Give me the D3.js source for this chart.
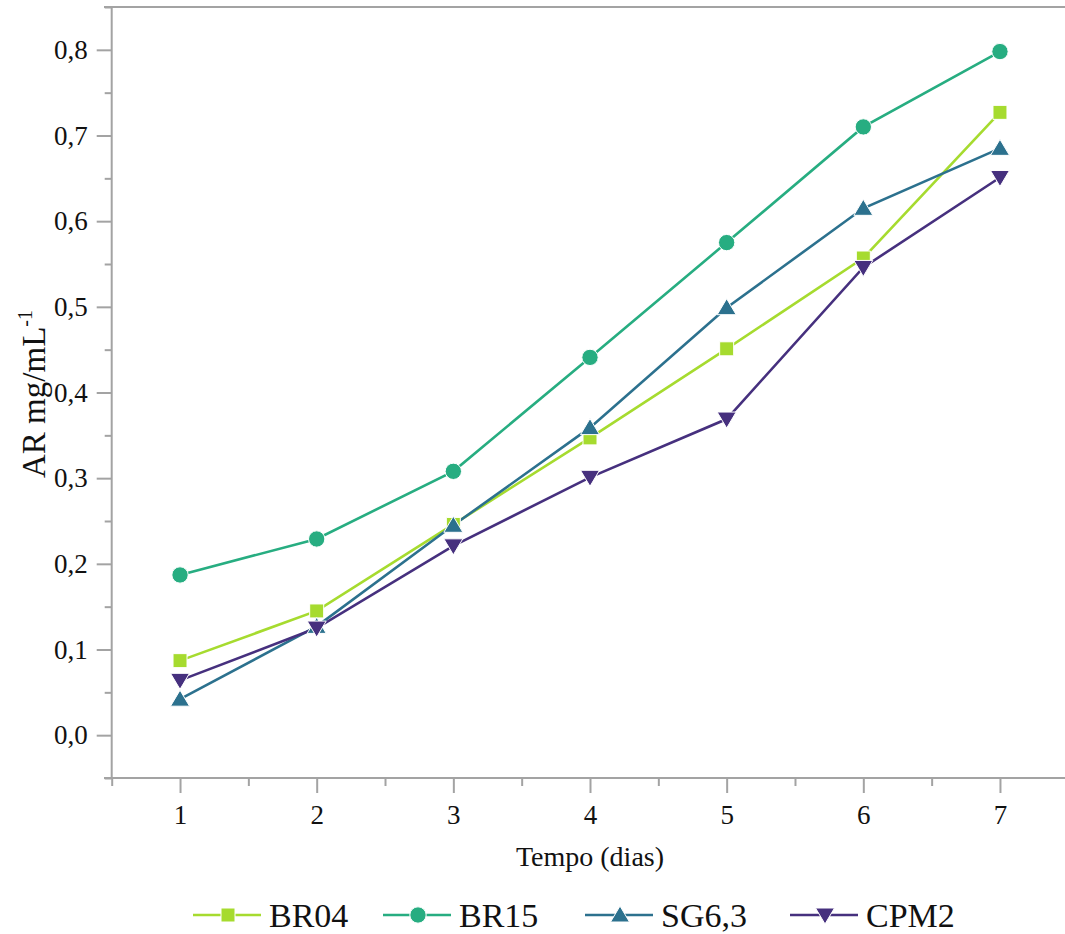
<!DOCTYPE html>
<html><head><meta charset="utf-8">
<script src="https://cdn.jsdelivr.net/npm/d3@7"></script>
<style>body{margin:0;background:#fff}svg{display:block}</style>
</head><body>
<svg id="c" width="1065" height="934"></svg>
<script>
const days = [1,2,3,4,5,6,7];
const seriesNames = ["BR04","BR15","SG6,3","CPM2"];
const BR04 = [0.087,0.145,0.246,0.347,0.451,0.557,0.727];
const BR15 = [0.187,0.229,0.308,0.441,0.575,0.710,0.798];
const SG63 = [0.042,0.127,0.245,0.359,0.499,0.615,0.685];
const CPM2 = [0.064,0.125,0.221,0.301,0.369,0.546,0.651];
const yTicks = [0,0.1,0.2,0.3,0.4,0.5,0.6,0.7,0.8];
const yLabels = ["0,0","0,1","0,2","0,3","0,4","0,5","0,6","0,7","0,8"];
const xLabels = ["1","2","3","4","5","6","7"];
const colors = ["#a6db2f","#27ad81","#2c718e","#46307e"];
const markers = ["square","circle","up","down"];
const values = [BR04,BR15,SG63,CPM2];

const svg = d3.select("#c");
const font = "'Liberation Serif','Times New Roman',serif";
const axisCol = "#a3a3a3";
const x = d3.scaleLinear().domain([0.5,7.5]).range([111.7,1068.3]);
const y = d3.scaleLinear().domain([-0.05,0.85]).range([778,7]);

// top frame line
svg.append("line").attr("x1",104).attr("x2",1065).attr("y1",7).attr("y2",7)
  .attr("stroke",axisCol).attr("stroke-width",2);

// Y axis
const minorY = d3.range(-0.05,0.851,0.1).map(v=>+v.toFixed(2));
const gy = svg.append("g").attr("transform","translate(111.7,0)");
gy.call(d3.axisLeft(y).tickValues(minorY).tickSize(7).tickFormat(""));
gy.call(g=>g.select(".domain").remove());
const gy2 = svg.append("g").attr("transform","translate(111.7,0)");
gy2.call(d3.axisLeft(y).tickValues(yTicks).tickSize(15).tickSizeOuter(0).tickPadding(9)
  .tickFormat((d,i)=>yLabels[i]));
gy2.select(".domain").attr("stroke",axisCol).attr("stroke-width",2).attr("d","M0,7V778");
gy2.selectAll("text").style("font-family",font).style("font-size","27px").attr("fill","#111");

// X axis
const gx = svg.append("g").attr("transform","translate(0,778)");
gx.call(d3.axisBottom(x).tickValues([0.5,1.5,2.5,3.5,4.5,5.5,6.5]).tickSize(8).tickFormat(""));
gx.select(".domain").remove();
const gx2 = svg.append("g").attr("transform","translate(0,778)");
gx2.call(d3.axisBottom(x).tickValues(days).tickSize(15).tickSizeOuter(0).tickPadding(12)
  .tickFormat((d,i)=>xLabels[i]));
gx2.select(".domain").attr("stroke",axisCol).attr("stroke-width",2).attr("d","M104,0H1065");
svg.selectAll(".tick line").attr("stroke",axisCol).attr("stroke-width",2);
gx2.selectAll("text").style("font-family",font).style("font-size","27px").attr("fill","#111");

// axis titles
svg.append("text").attr("x",590).attr("y",866).attr("text-anchor","middle")
  .attr("font-family",font).attr("font-size",28).attr("fill","#111").text("Tempo (dias)");
const yt = svg.append("text").attr("transform","translate(45,394) rotate(-90)")
  .attr("text-anchor","middle").attr("font-family",font).attr("font-size",33).attr("fill","#111");
yt.append("tspan").text("AR mg/mL");
yt.append("tspan").attr("dy",-13).attr("font-size",20).text("-1");

function markerPath(type){
  if(type==="square") return d3.symbol(d3.symbolSquare,196)();
  if(type==="circle") return d3.symbol(d3.symbolCircle,210)();
  if(type==="up") return "M0,-9L9.5,7L-9.5,7Z";
  return "M0,9L9.5,-7L-9.5,-7Z";
}

const line = d3.line().x((d,i)=>x(days[i])).y(d=>y(d));
values.forEach((vals,k)=>{
  svg.append("path").datum(vals).attr("d",line).attr("fill","none")
    .attr("stroke",colors[k]).attr("stroke-width",2.6);
});
values.forEach((vals,k)=>{
  svg.selectAll(null).data(vals).enter().append("path")
    .attr("d",markerPath(markers[k]))
    .attr("transform",(d,i)=>`translate(${x(days[i])},${y(d)})`)
    .attr("fill",colors[k]).attr("stroke","#fff").attr("stroke-width",1);
});

// legend
const legX = [193,383,585,790];
const ly = 915;
seriesNames.forEach((n,k)=>{
  const g = svg.append("g").attr("transform",`translate(${legX[k]},${ly})`);
  g.append("line").attr("x1",0).attr("x2",68).attr("stroke",colors[k]).attr("stroke-width",2.6);
  g.append("path").attr("d",markerPath(markers[k])).attr("transform","translate(35,0)")
    .attr("fill",colors[k]).attr("stroke","#fff").attr("stroke-width",1);
  g.append("text").attr("x",76).attr("y",12).attr("font-family",font).attr("font-size",34)
    .attr("fill","#111").text(n);
});
</script>
</body></html>
